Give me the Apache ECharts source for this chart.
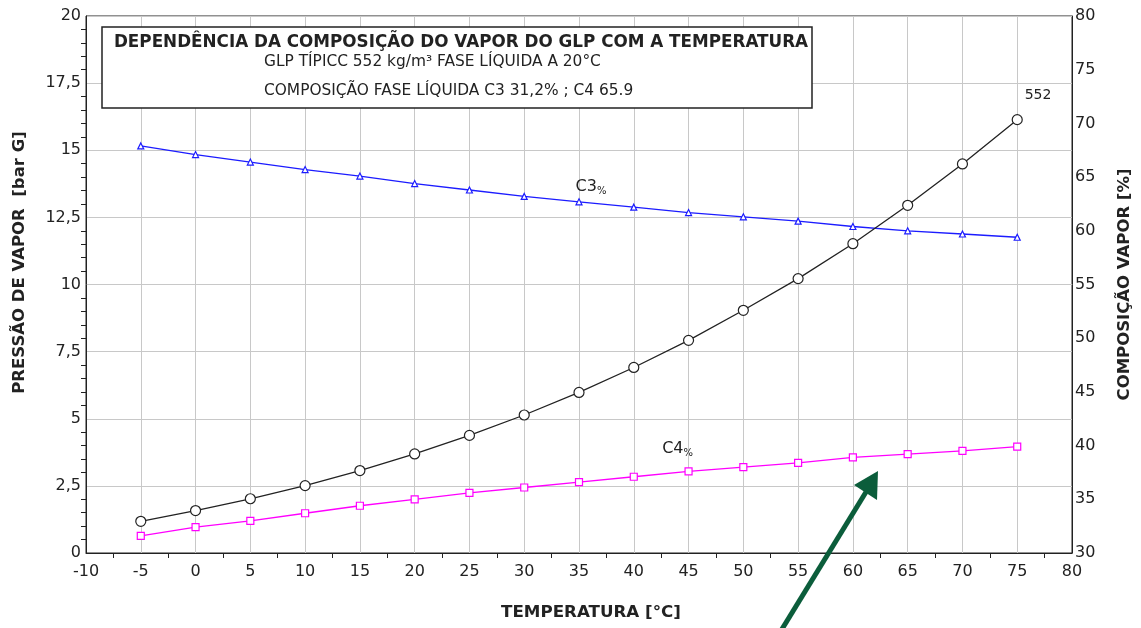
<!DOCTYPE html>
<html><head><meta charset="utf-8">
<script src="https://cdn.jsdelivr.net/npm/echarts@6/dist/echarts.min.js"></script>
<style>html,body{margin:0;padding:0;background:#fff}#c{width:1141px;height:628px}</style>
</head><body><div id="c"></div><script>
const temps = [-5, 0, 5, 10, 15, 20, 25, 30, 35, 40, 45, 50, 55, 60, 65, 70, 75];
const pressure = [1.18, 1.58, 2.02, 2.51, 3.07, 3.69, 4.38, 5.14, 5.98, 6.91, 7.92, 9.04, 10.22, 11.52, 12.95, 14.49, 16.14];
const c3 = [67.9, 67.1, 66.4, 65.7, 65.1, 64.4, 63.8, 63.2, 62.7, 62.2, 61.7, 61.3, 60.9, 60.4, 60.0, 59.7, 59.4];
const c4 = [31.6, 32.4, 33.0, 33.7, 34.4, 35.0, 35.6, 36.1, 36.6, 37.1, 37.6, 38.0, 38.4, 38.9, 39.2, 39.5, 39.9];
const titleLines = [
  'DEPENDÊNCIA DA COMPOSIÇÃO DO VAPOR DO GLP COM A TEMPERATURA',
  'GLP TÍPICC 552 kg/m³ FASE LÍQUIDA A 20°C',
  'COMPOSIÇÃO FASE LÍQUIDA C3 31,2% ; C4 65.9'
];
const xName = 'TEMPERATURA [°C]';
const yLeftName = 'PRESSÃO DE VAPOR  [bar G]';
const yRightName = 'COMPOSIÇÃO VAPOR [%]';

const F = "'DejaVu Sans', sans-serif";
const TXT = '#222';
const pairs = arr => temps.map((t, i) => [t, arr[i]]);
const labelPoint = (fmt, coord, rich) => ({
  symbol: 'circle', symbolSize: 0, itemStyle: {color: 'transparent'},
  label: {show: true, position: 'inside', formatter: fmt, rich: rich, fontFamily: F, fontSize: 14, color: TXT},
  data: [{coord: coord}]
});
const subRich = {a: {fontFamily: F, fontSize: 16, color: TXT}, b: {fontFamily: F, fontSize: 10, color: TXT, padding: [10, 0, 0, 0]}};

const chart = echarts.init(document.getElementById('c'), null, {renderer: 'canvas'});
chart.setOption({
  animation: false,
  backgroundColor: '#fff',
  grid: {left: 86, right: 68, top: 16, bottom: 75, show: true, borderColor: '#222', borderWidth: 1, backgroundColor: 'transparent'},
  xAxis: {
    type: 'value', min: -10, max: 80, interval: 5,
    name: xName, nameLocation: 'middle', nameGap: 51,
    nameTextStyle: {fontFamily: F, fontWeight: 'bold', fontSize: 16.7, color: TXT, padding: [0, 0, 0, 24]},
    axisLine: {onZero: false, lineStyle: {color: '#222', width: 1}},
    axisTick: {show: false},
    minorTick: {show: true, splitNumber: 2, length: 5, lineStyle: {color: '#222'}},
    axisLabel: {fontFamily: F, fontSize: 16, color: TXT, margin: 11},
    splitLine: {show: true, lineStyle: {color: '#c8c8c8', width: 1}}
  },
  yAxis: [{
    type: 'value', min: 0, max: 20, interval: 2.5, position: 'left',
    name: yLeftName, nameLocation: 'middle', nameGap: 58, nameRotate: 90,
    nameTextStyle: {fontFamily: F, fontWeight: 'bold', fontSize: 16.5, color: TXT, padding: [0, 0, 0, 44]},
    axisLine: {show: true, onZero: false, lineStyle: {color: '#222', width: 1}},
    axisTick: {show: false},
    minorTick: {show: true, splitNumber: 5, length: 5, lineStyle: {color: '#222'}},
    axisLabel: {fontFamily: F, fontSize: 16, color: TXT, margin: 5, formatter: v => String(v).replace('.', ',')},
    splitLine: {show: true, lineStyle: {color: '#c8c8c8', width: 1}}
  }, {
    type: 'value', min: 30, max: 80, interval: 5, position: 'right',
    name: yRightName, nameLocation: 'middle', nameGap: 44, nameRotate: 90,
    nameTextStyle: {fontFamily: F, fontWeight: 'bold', fontSize: 16.5, color: TXT},
    axisLine: {show: true, onZero: false, lineStyle: {color: '#222', width: 1}},
    axisTick: {show: false},
    axisLabel: {fontFamily: F, fontSize: 16, color: TXT, margin: 3},
    splitLine: {show: false}
  }],
  series: [{
    name: 'Pressão', type: 'line', yAxisIndex: 0, data: pairs(pressure),
    symbol: 'circle', symbolSize: 10, z: 4,
    lineStyle: {color: '#222', width: 1.3},
    itemStyle: {color: '#fff', borderColor: '#222', borderWidth: 1.2},
    markPoint: labelPoint('552', [76.9, 17.05])
  }, {
    name: 'C3', type: 'line', yAxisIndex: 1, data: pairs(c3),
    symbol: 'triangle', symbolSize: 6, z: 3,
    lineStyle: {color: '#1c1cff', width: 1.3},
    itemStyle: {color: '#fff', borderColor: '#1c1cff', borderWidth: 1.2},
    markPoint: labelPoint('{a|C3}{b|%}', [36.1, 64.1], subRich)
  }, {
    name: 'C4', type: 'line', yAxisIndex: 1, data: pairs(c4),
    symbol: 'rect', symbolSize: 7, z: 3,
    lineStyle: {color: '#ff00ff', width: 1.3},
    itemStyle: {color: '#fff', borderColor: '#ff00ff', borderWidth: 1.2},
    markPoint: labelPoint('{a|C4}{b|%}', [44.0, 39.7], subRich)
  }],
  graphic: [
    {type: 'rect', z: 10, shape: {x: 102, y: 27, width: 710, height: 81},
      style: {fill: '#fff', stroke: '#222', lineWidth: 1.5}},
    {type: 'text', z: 11, x: 461, y: 43, style: {text: titleLines[0], font: "bold 16.8px 'DejaVu Sans'", fill: TXT, align: 'center', verticalAlign: 'middle'}},
    {type: 'text', z: 11, x: 264, y: 62, style: {text: titleLines[1], font: "15.4px 'DejaVu Sans'", fill: TXT, align: 'left', verticalAlign: 'middle'}},
    {type: 'text', z: 11, x: 264, y: 91, style: {text: titleLines[2], font: "15.4px 'DejaVu Sans'", fill: TXT, align: 'left', verticalAlign: 'middle'}},
    {type: 'polyline', z: 20, shape: {points: [[779, 634], [866, 492]]}, style: {stroke: '#0b5d3b', lineWidth: 5}},
    {type: 'polygon', z: 20, shape: {points: [[878, 471], [854, 485], [877, 500]]}, style: {fill: '#0b5d3b'}}
  ]
});
</script></body></html>
